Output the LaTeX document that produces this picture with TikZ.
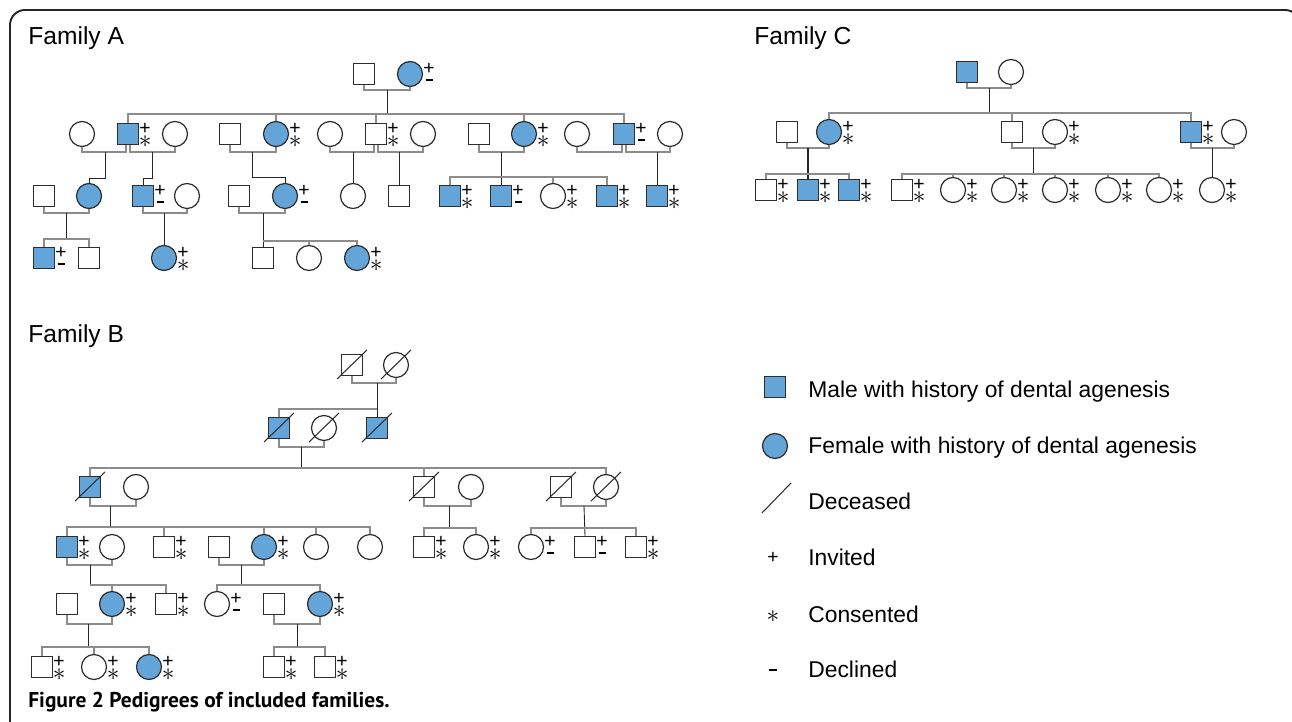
\documentclass[tikz,border=0pt]{standalone}
\usepackage{fontspec}
\setmainfont{Liberation Sans}
\newfontfamily\capfont{PT Sans}
\usetikzlibrary{positioning}
\definecolor{affblue}{RGB}{99,165,216}
\definecolor{symline}{RGB}{45,45,45}
\definecolor{linegray}{RGB}{140,140,140}

\begin{document}
\begin{tikzpicture}[x=0.02cm, y=-0.02cm,
    male/.style={rectangle, draw=symline, line width=0.7pt, minimum size=0.42cm, inner sep=0pt},
    female/.style={circle, draw=symline, line width=0.7pt, minimum size=0.5cm, inner sep=0pt},
    aff/.style={fill=affblue},
    mk/.style={inner sep=0pt, anchor=center, font=\fontsize{11}{11}\selectfont},
    ast/.style={mk, font=\fontsize{15}{15}\selectfont},
    invcon/.style={label={[mk, shift={(6,-5)}]east:+}, label={[ast, shift={(6,8)}]east:$\ast$}},
    invdec/.style={label={[mk, shift={(6,-5)}]east:+}, label={[mk, shift={(6,6)}]east:\rule{4pt}{1.1pt}}},
    mline/.style={draw=linegray, line width=0.6pt},
    dline/.style={draw=black!85, line width=0.5pt},
    dslash/.style={draw=symline, line width=0.6pt},
    frame/.style={draw=black!85, line width=1.1pt, rounded corners=0.3cm},
    fam/.style={anchor=base west, inner sep=0pt, font=\fontsize{14}{16}\selectfont},
    legtext/.style={anchor=base west, inner sep=0pt, font=\fontsize{13}{15}\selectfont}
  ]
  \useasboundingbox (0,0) rectangle (1292,722);
  \clip (0,0) rectangle (1292,722);

  % Frame and caption
  \draw[frame] (10,740) -- (10,10) -- (1300,10) -- (1300,740);
  \node[anchor=base west, inner sep=0pt, font=\capfont\bfseries\fontsize{12.2}{14}\selectfont] (cap) at (28,707) {Figure 2 Pedigrees of included families.};

  % ---------------- Family A ----------------
  \node[fam] (famA) at (28,45) {Family A};
  \node[male] (a11) at (364,74) {};
  \node[female, aff, invdec] (a12) at (410,74) {};

  \node[female] (a21) at (82,134) {};
  \node[male, aff, invcon] (a22) at (128,134) {};
  \node[female] (a23) at (175,134) {};
  \node[male] (a24) at (230,134) {};
  \node[female, aff, invcon] (a25) at (276,134) {};
  \node[female] (a26) at (330,134) {};
  \node[male, invcon] (a27) at (376,134) {};
  \node[female] (a28) at (423,134) {};
  \node[male] (a29) at (479,134) {};
  \node[female, aff, invcon] (a210) at (524,134) {};
  \node[female] (a211) at (577,134) {};
  \node[male, aff, invdec] (a212) at (624,134) {};
  \node[female] (a213) at (670,134) {};

  \node[male] (a31) at (44,196) {};
  \node[female, aff] (a32) at (89,196) {};
  \node[male, aff, invdec] (a33) at (143,196) {};
  \node[female] (a34) at (187,196) {};
  \node[male] (a35) at (239,196) {};
  \node[female, aff, invdec] (a36) at (285,196) {};
  \node[female] (a37) at (353,196) {};
  \node[male] (a38) at (399,196) {};
  \node[male, aff, invcon] (a39) at (450,196) {};
  \node[male, aff, invdec] (a310) at (501,196) {};
  \node[female, invcon] (a311) at (553,196) {};
  \node[male, aff, invcon] (a312) at (607,196) {};
  \node[male, aff, invcon] (a313) at (657,196) {};

  \node[male, aff, invdec] (a41) at (44,258) {};
  \node[male] (a42) at (89,258) {};
  \node[female, aff, invcon] (a43) at (164,258) {};
  \node[male] (a44) at (263,258) {};
  \node[female] (a45) at (309,258) {};
  \node[female, aff, invcon] (a46) at (357,258) {};

  % lines, generation I
  \coordinate (ma1) at (387,90);
  \coordinate (sa1) at (387,114);
  \draw[mline] (a11.south) |- (ma1) -| (a12.south);
  \draw[dline] (ma1) -- (sa1);
  \draw[mline] (a22.north) |- (sa1) -| (a212.north);
  \foreach \c in {a25,a27,a210} \draw[mline] (\c.north) -- (\c.north |- sa1);

  % lines, generation II
  \coordinate (ma2) at (105,152);
  \draw[mline] (a21.south) |- (ma2) -| ([xshift=-0.04cm]a22.south);
  \draw[dline] (ma2) -- ++(0,26) -| (a32.north);
  \coordinate (ma3) at (152,152);
  \draw[mline] ([xshift=0.04cm]a22.south) |- (ma3) -| (a23.south);
  \draw[dline] (ma3) -- ++(0,26) -| (a33.north);
  \coordinate (ma4) at (252,152);
  \draw[mline] (a24.south) |- (ma4) -| (a25.south);
  \draw[dline] (ma4) -- ++(0,25) -| (a36.north);
  \coordinate (ma5) at (353,152);
  \draw[mline] (a26.south) |- (ma5) -| ([xshift=-0.04cm]a27.south);
  \draw[dline] (ma5) -- (a37.north);
  \coordinate (ma6) at (399,152);
  \draw[mline] ([xshift=0.04cm]a27.south) |- (ma6) -| (a28.south);
  \draw[dline] (ma6) -- (a38.north);
  \coordinate (ma7) at (501,152);
  \coordinate (sa7) at (501,177);
  \draw[mline] (a29.south) |- (ma7) -| (a210.south);
  \draw[dline] (ma7) -- (a310.north);
  \draw[mline] (a39.north) |- (sa7) -| (a312.north);
  \draw[mline] (a311.north) -- (a311.north |- sa7);
  \coordinate (ma8) at (600,152);
  \draw[mline] (a211.south) |- (ma8) -| ([xshift=-0.04cm]a212.south);
  \coordinate (ma9) at (657,152);
  \draw[mline] ([xshift=0.04cm]a212.south) |- (ma9) -| (a213.south);
  \draw[dline] (ma9) -- (a313.north);

  % lines, generation III
  \coordinate (ma10) at (66,213);
  \coordinate (sa10) at (66,239);
  \draw[mline] (a31.south) |- (ma10) -| (a32.south);
  \draw[dline] (ma10) -- (sa10);
  \draw[mline] (a41.north) |- (sa10) -| (a42.north);
  \coordinate (ma11) at (164,213);
  \draw[mline] (a33.south) |- (ma11) -| (a34.south);
  \draw[dline] (ma11) -- (a43.north);
  \coordinate (ma12) at (263,213);
  \coordinate (sa12) at (263,241);
  \draw[mline] (a35.south) |- (ma12) -| (a36.south);
  \draw[dline] (ma12) -- (a44.north);
  \draw[mline] (sa12) -| (a46.north);
  \draw[mline] (a45.north) -- (a45.north |- sa12);

  % ---------------- Family C ----------------
  \node[fam] (famC) at (754,45) {Family C};
  \node[male, aff] (c11) at (967,72) {};
  \node[female] (c12) at (1011,72) {};

  \node[male] (c21) at (787,132) {};
  \node[female, aff, invcon] (c22) at (829,132) {};
  \node[male] (c23) at (1012,132) {};
  \node[female, invcon] (c24) at (1055,132) {};
  \node[male, aff, invcon] (c25) at (1191,132) {};
  \node[female] (c26) at (1234,132) {};

  \node[male, invcon] (c31) at (766,190) {};
  \node[male, aff, invcon] (c32) at (808,190) {};
  \node[male, aff, invcon] (c33) at (849,190) {};
  \node[male, invcon] (c34) at (902,190) {};
  \foreach \n/\x in {35/953,36/1004,37/1055,38/1108,39/1159,310/1212}
    \node[female, invcon] (c\n) at (\x,190) {};

  \coordinate (mc1) at (989,88);
  \coordinate (sc1) at (989,113);
  \draw[mline] (c11.south) |- (mc1) -| (c12.south);
  \draw[dline] (mc1) -- (sc1);
  \draw[mline] (c22.north) |- (sc1) -| (c25.north);
  \draw[mline] (c23.north) -- (c23.north |- sc1);
  \coordinate (mc2) at (808,148);
  \coordinate (sc2) at (808,174);
  \draw[mline] (c21.south) |- (mc2) -| (c22.south);
  \draw[dline, line width=1.2pt] (mc2) -- (c32.north);
  \draw[mline] (c31.north) |- (sc2) -| (c33.north);
  \coordinate (mc3) at (1033,148);
  \coordinate (sc3) at (1033,174);
  \draw[mline] (c23.south) |- (mc3) -| (c24.south);
  \draw[dline] (mc3) -- (sc3);
  \draw[mline] (c34.north) |- (sc3) -| (c39.north);
  \foreach \c in {c35,c36,c37,c38} \draw[mline] (\c.north) -- (\c.north |- sc3);
  \coordinate (mc4) at (1212,148);
  \draw[mline] (c25.south) |- (mc4) -| (c26.south);
  \draw[dline] (mc4) -- (c310.north);

  % ---------------- Family B ----------------
  \node[fam] (famB) at (28,343) {Family B};
  \node[male] (b11) at (352,365) {};
  \node[female] (b12) at (396,365) {};

  \node[male, aff] (b21) at (279,428) {};
  \node[female] (b22) at (324,428) {};
  \node[male, aff] (b23) at (377,428) {};

  \node[male, aff] (b31) at (90,487) {};
  \node[female] (b32) at (136,487) {};
  \node[male] (b33) at (424,487) {};
  \node[female] (b34) at (471,487) {};
  \node[male] (b35) at (561,487) {};
  \node[female] (b36) at (606,487) {};

  \node[male, aff, invcon] (b41) at (67,547) {};
  \node[female] (b42) at (112,547) {};
  \node[male, invcon] (b43) at (164,547) {};
  \node[male] (b44) at (219,547) {};
  \node[female, aff, invcon] (b45) at (264,547) {};
  \node[female] (b46) at (316,547) {};
  \node[female] (b47) at (370,547) {};
  \node[male, invcon] (b48) at (424,547) {};
  \node[female, invcon] (b49) at (476,547) {};
  \node[female, invdec] (b410) at (531,547) {};
  \node[male, invdec] (b411) at (585,547) {};
  \node[male, invcon] (b412) at (636,547) {};

  \node[male] (b51) at (67,604) {};
  \node[female, aff, invcon] (b52) at (112,604) {};
  \node[male, invcon] (b53) at (166,604) {};
  \node[female, invdec] (b54) at (217,604) {};
  \node[male] (b55) at (274,604) {};
  \node[female, aff, invcon] (b56) at (320,604) {};

  \node[male, invcon] (b61) at (42,667) {};
  \node[female, invcon] (b62) at (94,667) {};
  \node[female, aff, invcon] (b63) at (149,667) {};
  \node[male, invcon] (b64) at (274,667) {};
  \node[male, invcon] (b65) at (325,667) {};

  % deceased
  \foreach \n in {b11,b12,b21,b22,b23,b31,b33,b35,b36}
    \draw[dslash] ([shift={(-15,14)}]\n.center) -- ([shift={(15,-15)}]\n.center);

  \coordinate (mb1) at (377,383);
  \coordinate (sb1) at (377,409);
  \draw[mline] (b11.south) |- (mb1) -| (b12.south);
  \draw[dline] (mb1) -- (b23.north);
  \draw[mline] (b21.north) |- (sb1);
  \coordinate (mb2) at (301,447);
  \coordinate (sb2) at (301,468);
  \draw[mline] (b21.south) |- (mb2) -| (b22.south);
  \draw[dline] (mb2) -- (sb2);
  \draw[mline] (b31.north) |- (sb2) -| (b36.north);
  \draw[mline] (b33.north) -- (b33.north |- sb2);
  \coordinate (mb3) at (110,506);
  \coordinate (sb3) at (110,527);
  \draw[mline] (b31.south) |- (mb3) -| (b32.south);
  \draw[dline] (mb3) -- (sb3);
  \draw[mline] (b41.north) |- (sb3) -| (b47.north);
  \foreach \c in {b43,b45,b46} \draw[mline] (\c.north) -- (\c.north |- sb3);
  \coordinate (mb4) at (449,506);
  \coordinate (sb4) at (449,528);
  \draw[mline] (b33.south) |- (mb4) -| (b34.south);
  \draw[dline] (mb4) -- (sb4);
  \draw[mline] (b48.north) |- (sb4) -| (b49.north);
  \coordinate (mb5) at (584,506);
  \coordinate (sb5) at (584,528);
  \draw[mline] (b35.south) |- (mb5) -| (b36.south);
  \draw[dline] (mb5) -- (b411.north);
  \draw[mline] (b410.north) |- (sb5) -| (b412.north);
  \coordinate (mb6) at (90,565);
  \coordinate (sb6) at (90,585);
  \draw[mline] (b41.south) |- (mb6) -| (b42.south);
  \draw[dline] (mb6) -- (sb6);
  \draw[mline] (sb6) -| (b53.north);
  \draw[mline] (b52.north) -- (b52.north |- sb6);
  \coordinate (mb7) at (241,565);
  \coordinate (sb7) at (241,585);
  \draw[mline] (b44.south) |- (mb7) -| (b45.south);
  \draw[dline] (mb7) -- (sb7);
  \draw[mline] (b54.north) |- (sb7) -| (b56.north);
  \coordinate (mb8) at (88,624);
  \coordinate (sb8) at (88,647);
  \draw[mline] (b51.south) |- (mb8) -| (b52.south);
  \draw[dline] (mb8) -- (sb8);
  \draw[mline] (b61.north) |- (sb8) -| (b63.north);
  \draw[mline] (b62.north) -- (b62.north |- sb8);
  \coordinate (mb9) at (297,624);
  \coordinate (sb9) at (297,647);
  \draw[mline] (b55.south) |- (mb9) -| (b56.south);
  \draw[dline] (mb9) -- (sb9);
  \draw[mline] (b64.north) |- (sb9) -| (b65.north);

  % ---------------- Legend ----------------
  \node[male, aff] (lgm) at (775,387) {};
  \node[legtext] (lgmt) at (808,398) {Male with history of dental agenesis};
  \node[female, aff] (lgf) at (775,446) {};
  \node[legtext] (lgft) at (808,454) {Female with history of dental agenesis};
  \draw[dslash] (762,513) -- (791,483);
  \node[legtext] (lgdt) at (808,510) {Deceased};
  \node[mk] (lgi) at (773,558) {+};
  \node[legtext] (lgit) at (808,566) {Invited};
  \node[ast] (lgc) at (773,617) {$\ast$};
  \node[legtext] (lgct) at (808,623) {Consented};
  \node[mk] (lgx) at (773,670) {\rule{4pt}{1.1pt}};
  \node[legtext] (lgxt) at (808,678) {Declined};
\end{tikzpicture}
\end{document}
